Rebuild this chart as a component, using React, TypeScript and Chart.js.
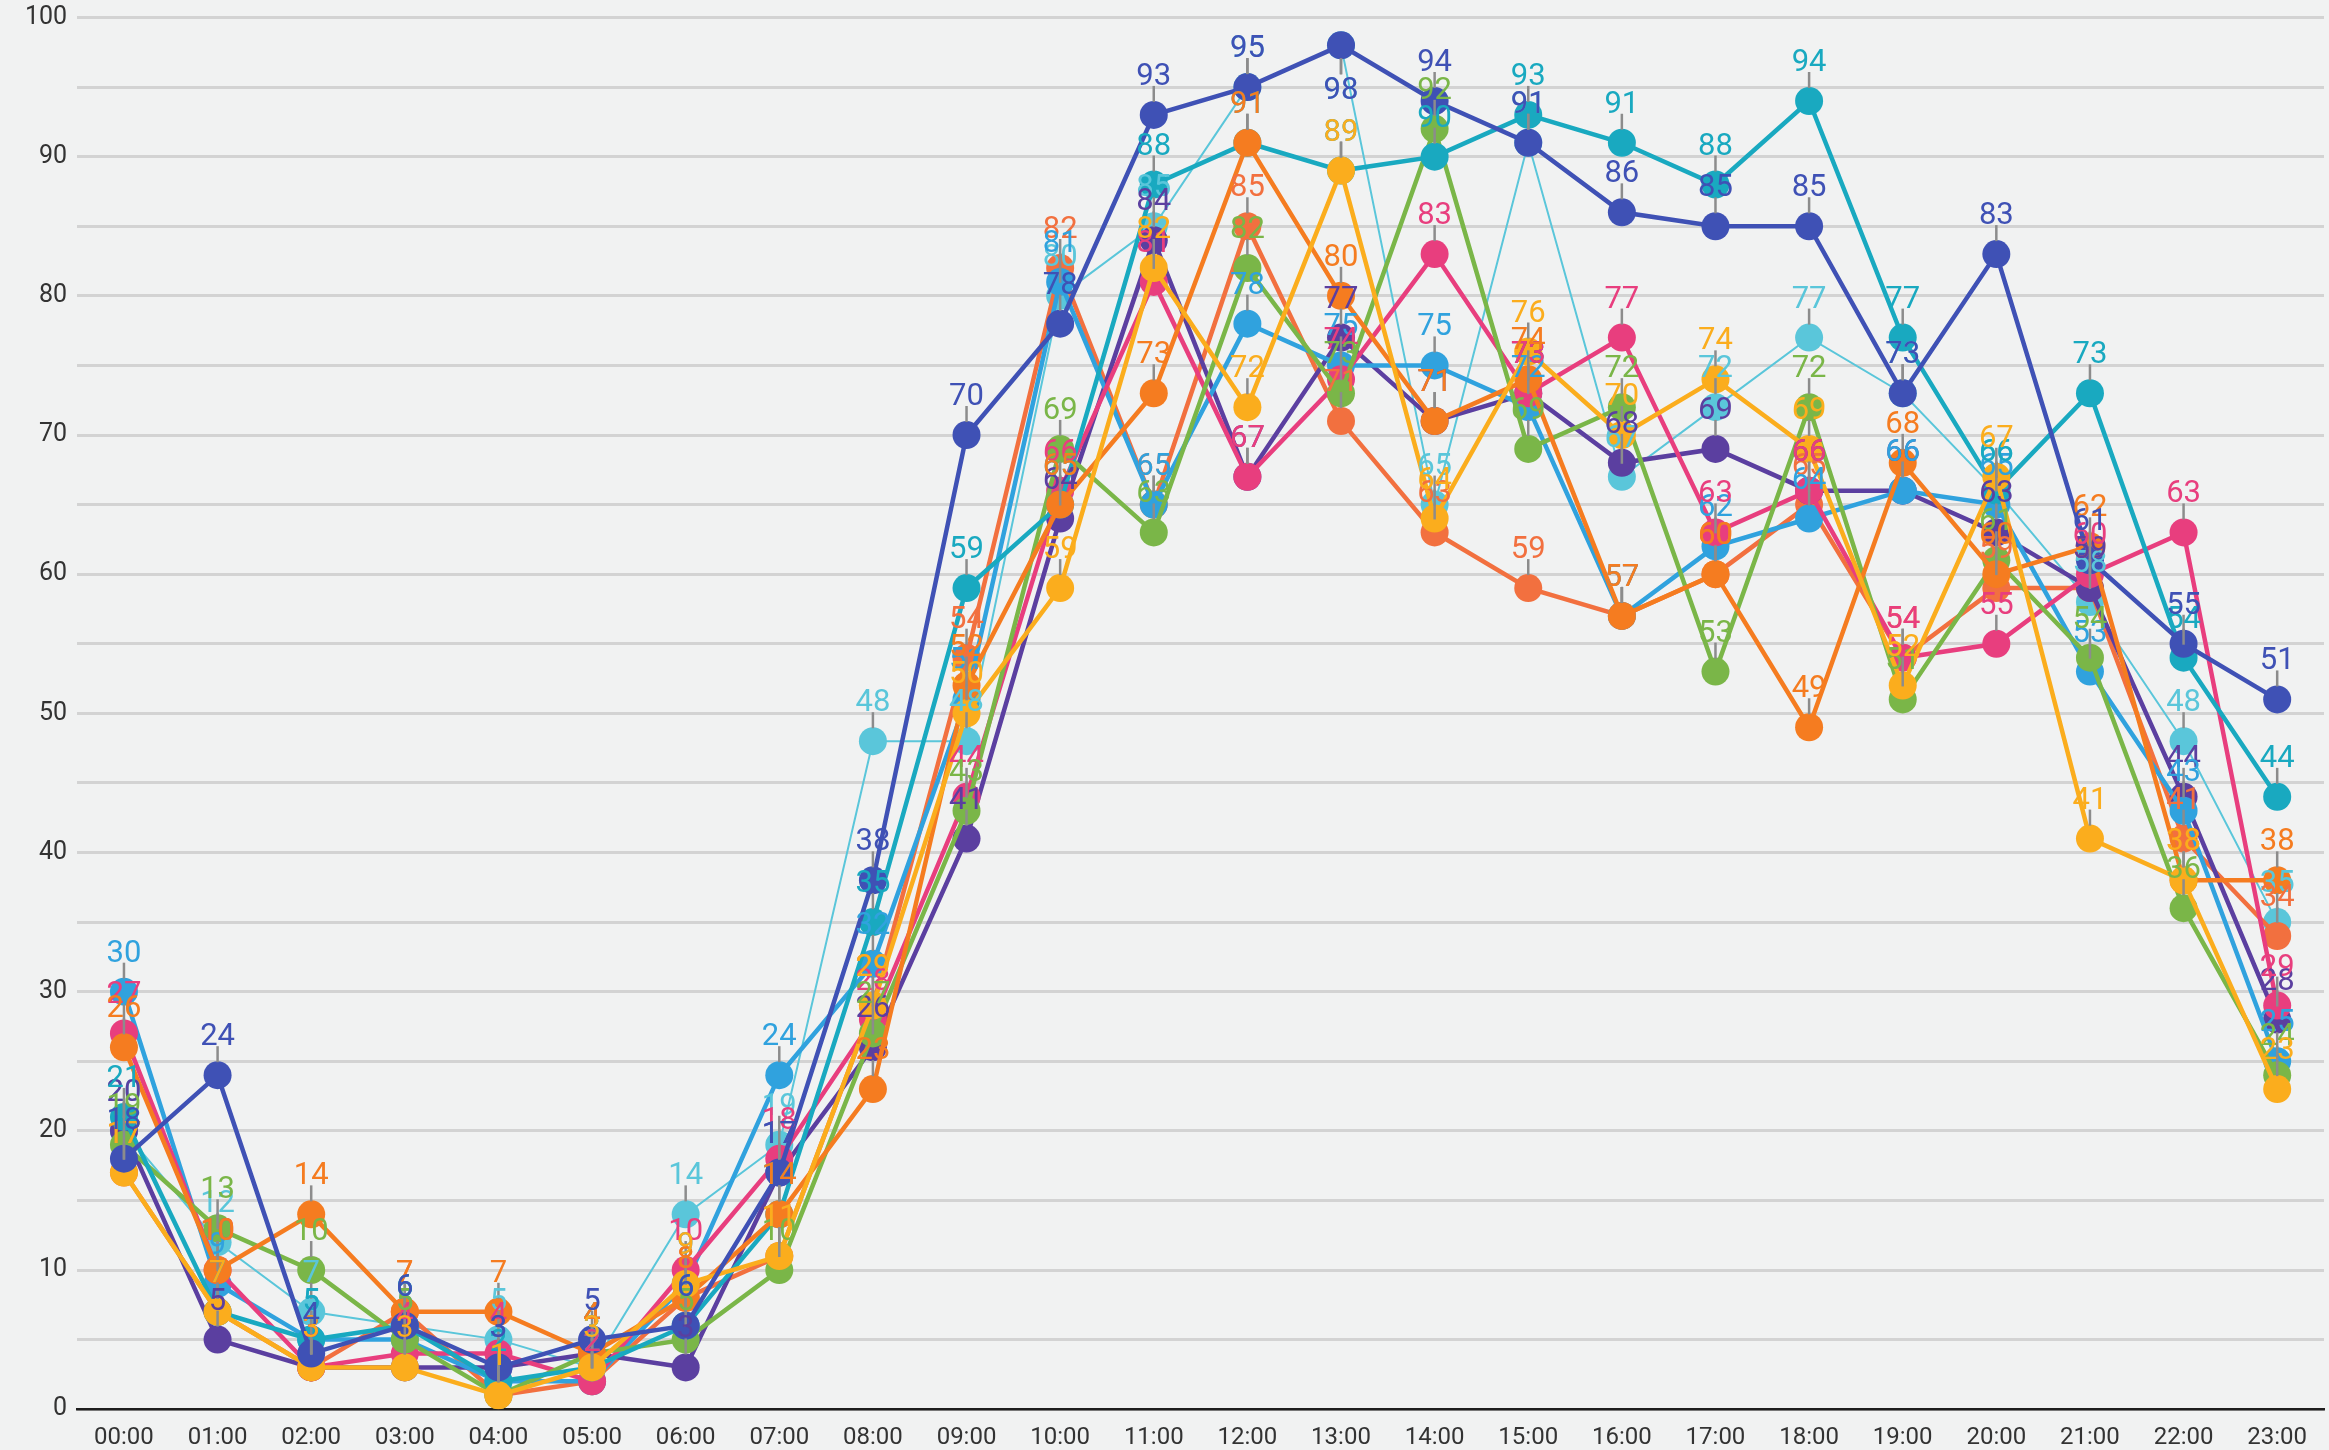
import React, { useEffect, useRef } from "react";
import { Chart, registerables } from "chart.js";

Chart.register(...registerables);

const HOURS = [
  "00:00", "01:00", "02:00", "03:00", "04:00", "05:00", "06:00", "07:00",
  "08:00", "09:00", "10:00", "11:00", "12:00", "13:00", "14:00", "15:00",
  "16:00", "17:00", "18:00", "19:00", "20:00", "21:00", "22:00", "23:00",
];

const INDIGO = [18, 24, 4, 6, 3, 5, 6, 17, 38, 70, 78, 93, 95, 98, 94, 91, 86, 85, 85, 73, 83, 61, 55, 51];
const AMBER = [17, 7, 3, 3, 1, 3, 9, 11, 29, 50, 59, 82, 72, 89, 64, 76, 70, 74, 69, 52, 67, 41, 38, 23];
const ORANGE = [26, 10, 14, 7, 7, 4, 8, 14, 23, 52, 65, 73, 91, 80, 71, 74, 57, 60, 49, 68, 60, 62, 38, 38];
const TEAL = [21, 7, 5, 6, 2, 3, 6, 14, 35, 59, 65, 88, 91, 89, 90, 93, 91, 88, 94, 77, 66, 73, 54, 44];
const GREEN = [19, 13, 10, 5, 1, 4, 5, 10, 27, 43, 69, 63, 82, 73, 92, 69, 72, 53, 72, 51, 61, 54, 36, 24];
const PINK = [27, 10, 3, 4, 4, 2, 10, 18, 28, 44, 66, 81, 67, 74, 83, 73, 77, 63, 66, 54, 55, 60, 63, 29];
const LIGHT_BLUE = [30, 9, 5, 5, 2, 2, 9, 24, 32, 51, 81, 65, 78, 75, 75, 72, 57, 62, 64, 66, 65, 53, 43, 25];
const PURPLE = [20, 5, 3, 3, 3, 4, 3, 17, 26, 41, 64, 84, 67, 77, 71, 73, 68, 69, 66, 66, 63, 59, 44, 28];
const CORAL = [17, 7, 3, 7, 1, 2, 8, 11, 29, 54, 82, 65, 85, 71, 63, 59, 57, 60, 65, 54, 59, 59, 41, 34];
const LIGHT_CYAN = [20, 12, 7, 6, 5, 3, 14, 19, 48, 48, 80, 85, 95, 98, 65, 91, 67, 72, 77, 73, 66, 58, 48, 35];

const Y_TICK_STEP = 5;

const SERIES = [
  { name: "indigo", data: INDIGO, color: "#3f51b5", width: 4.5 },
  { name: "amber", data: AMBER, color: "#fbad1d", width: 4.5 },
  { name: "orange", data: ORANGE, color: "#f57c20", width: 4.5 },
  { name: "teal", data: TEAL, color: "#19a9c0", width: 4.5 },
  { name: "green", data: GREEN, color: "#7ab648", width: 4.5 },
  { name: "pink", data: PINK, color: "#e83e7e", width: 4.5 },
  { name: "lightBlue", data: LIGHT_BLUE, color: "#30a2de", width: 4.5 },
  { name: "purple", data: PURPLE, color: "#5b3fa0", width: 4.5 },
  { name: "coral", data: CORAL, color: "#f2703f", width: 4.5 },
  { name: "lightCyan", data: LIGHT_CYAN, color: "#5ac6da", width: 2 },
];

const bgPlugin = {
  id: "bg",
  beforeDraw(chart: any) {
    const ctx = chart.ctx;
    ctx.save();
    ctx.fillStyle = "#f1f2f2";
    ctx.fillRect(0, 0, chart.width, chart.height);
    ctx.restore();
  },
};

const labelPlugin = {
  id: "pointLabels",
  afterDatasetsDraw(chart: any) {
    const ctx = chart.ctx;
    ctx.save();
    const n = chart.data.datasets.length;
    const flip = (y: number) => y - 54 < 0;
    for (let d = n - 1; d >= 0; d--) {
      const meta = chart.getDatasetMeta(d);
      meta.data.forEach((pt: any) => {
        const dir = flip(pt.y) ? 1 : -1;
        ctx.strokeStyle = "#8c8c8c";
        ctx.lineWidth = 2.5;
        ctx.beginPath();
        ctx.moveTo(pt.x, pt.y + dir * 13);
        ctx.lineTo(pt.x, pt.y + dir * 29);
        ctx.stroke();
      });
    }
    ctx.font = "400 31px Roboto";
    ctx.textAlign = "center";
    ctx.textBaseline = "alphabetic";
    for (let d = n - 1; d >= 0; d--) {
      const ds = chart.data.datasets[d];
      const meta = chart.getDatasetMeta(d);
      ctx.fillStyle = ds.borderColor;
      meta.data.forEach((pt: any, i: number) => {
        const y = flip(pt.y) ? pt.y + 54 : pt.y - 30;
        ctx.fillText(String(ds.data[i]), pt.x, y);
      });
    }
    ctx.restore();
  },
};

export default function App() {
  const ref = useRef<HTMLCanvasElement | null>(null);

  useEffect(() => {
    document.body.style.margin = "0";
    document.body.style.background = "#f1f2f2";
    const canvas = ref.current;
    if (!canvas) return;
    const chart = new Chart(canvas, {
      type: "line",
      data: {
        labels: HOURS,
        datasets: SERIES.map((s) => ({
          label: s.name,
          data: s.data,
          borderColor: s.color,
          backgroundColor: s.color,
          pointBackgroundColor: s.color,
          pointBorderColor: s.color,
          borderWidth: s.width,
          pointRadius: 14,
          pointBorderWidth: 0,
          tension: 0,
          fill: false,
        })),
      },
      options: {
        animation: false,
        responsive: false,
        maintainAspectRatio: false,
        layout: { autoPadding: false, padding: { left: 15, right: 5, top: 0, bottom: -8 } },
        plugins: {
          legend: { display: false },
          tooltip: { enabled: false },
        },
        scales: {
          x: {
            type: "category",
            offset: true,
            grid: { display: false },
            border: { display: true, color: "#1e1e1e", width: 2.5 },
            ticks: {
              color: "#333333",
              font: { family: "Roboto", size: 24 },
              padding: 6,
              maxRotation: 0,
              autoSkip: false,
            },
          },
          y: {
            min: 0,
            max: 100,
            grid: { color: "#d3d3d3", lineWidth: 3, drawTicks: false },
            border: { display: false },
            ticks: {
              stepSize: Y_TICK_STEP,
              color: "#333333",
              font: { family: "Roboto", size: 25, lineHeight: 0.6 },
              padding: 10,
              callback: (v: any) => (Number(v) % 10 === 0 ? String(v) : ""),
            },
          },
        },
      },
      plugins: [bgPlugin, labelPlugin],
    });
    return () => chart.destroy();
  }, []);

  return (
    <div style={{ width: 2329, height: 1450, background: "#f1f2f2" }}>
      <canvas ref={ref} width={2329} height={1450} style={{ display: "block" }} />
    </div>
  );
}
